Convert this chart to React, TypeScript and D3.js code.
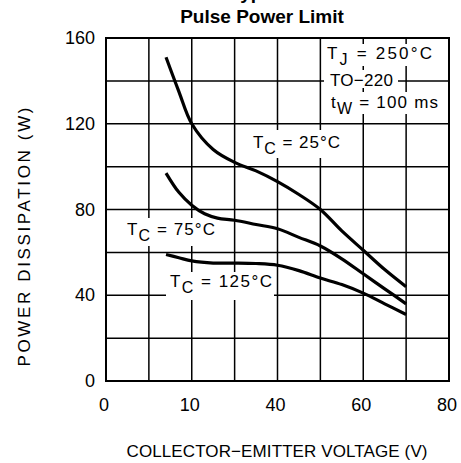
import * as d3 from 'd3'

const xTicks = [0, 20, 40, 60, 80]
const xTickLabels = ['0', '10', '40', '60', '80']
const yTicks = [0, 40, 80, 120, 160]

const tc25 = [
  [14, 151], [17, 135], [20, 120], [25, 108], [30, 102], [35, 98], [40, 93],
  [45, 87], [50, 80], [55, 70], [60, 61], [65, 52], [70, 44],
]
const tc75 = [
  [14, 97], [17, 88], [20, 82], [23, 78], [26, 76], [30, 75], [35, 73], [40, 71],
  [45, 67], [50, 63], [55, 57], [60, 50], [65, 43], [70, 36],
]
const tc125 = [
  [14, 59], [17, 57.5], [20, 56], [25, 55], [30, 55], [35, 54.8], [40, 54],
  [45, 51.5], [50, 48], [55, 45], [60, 41], [65, 36], [70, 31],
]
const series = [tc25, tc75, tc125]

const W = 461
const H = 463
const font = "'Liberation Sans', Arial, sans-serif"

export default function App() {
  const x = d3.scaleLinear().domain([0, 80]).range([106, 449])
  const y = d3.scaleLinear().domain([0, 160]).range([381, 38])

  const line = d3
    .line<number[]>()
    .x((d) => x(d[0]))
    .y((d) => y(d[1]))
    .curve(d3.curveCatmullRom.alpha(0.5))

  const gridX = d3.range(10, 80, 10)
  const gridY = d3.range(20, 160, 20)

  // label with a subscript, stretched to the width seen in the picture
  const sub = (main: string, s: string, rest: string, px: number, py: number, len: number) => (
    <text x={px} y={py} fontFamily={font} fontSize={17} fill="#000" textLength={len} lengthAdjust="spacing">
      {main}
      <tspan fontSize={16} dy={6}>{s}</tspan>
      <tspan dy={-6}>{rest}</tspan>
    </text>
  )

  return (
    <div style={{ position: 'absolute', left: 0, top: 0 }}>
      <svg width={W} height={H} style={{ display: 'block', background: '#fff' }}>
        <text x={262} y={-1} textAnchor="middle" fontFamily={font} fontWeight="bold" fontSize={19}>
          Typical
        </text>
        <text x={262} y={23} textAnchor="middle" fontFamily={font} fontWeight="bold" fontSize={19}>
          Pulse Power Limit
        </text>

        {gridX.map((v) => (
          <line key={'gx' + v} x1={x(v)} x2={x(v)} y1={y(0)} y2={y(160)} stroke="#000" strokeWidth={1.5} />
        ))}
        {gridY.map((v) => (
          <line key={'gy' + v} x1={x(0)} x2={x(80)} y1={y(v)} y2={y(v)} stroke="#000" strokeWidth={1.5} />
        ))}

        {/* white masks behind annotations */}
        <rect x={322} y={44} width={115} height={22} fill="#fff" />
        <rect x={324} y={70} width={74} height={18} fill="#fff" />
        <rect x={326} y={92} width={118} height={22} fill="#fff" />
        <rect x={243} y={130} width={103} height={28} fill="#fff" />
        <rect x={120} y={218} width={104} height={28} fill="#fff" />
        <rect x={166} y={272} width={108} height={28} fill="#fff" />

        {sub('T', 'J', ' =  250°C', 327, 59, 105)}
        <text x={330} y={86} fontFamily={font} fontSize={17} textLength={63} lengthAdjust="spacing">
          TO−220
        </text>
        {sub('t', 'W', ' =  100 ms', 331, 108, 107)}
        {sub('T', 'C', ' = 25°C', 253, 148, 87)}
        {sub('T', 'C', ' = 75°C', 127, 235, 88)}
        {sub('T', 'C', ' = 125°C', 170, 287, 102)}

        {series.map((s, i) => (
          <path key={i} d={line(s) ?? ''} fill="none" stroke="#000" strokeWidth={3.2} strokeLinecap="butt" />
        ))}

        <rect x={x(0)} y={y(160)} width={x(80) - x(0)} height={y(0) - y(160)} fill="none" stroke="#000" strokeWidth={2} />

        {yTicks.map((v) => (
          <text key={'yt' + v} x={95} y={y(v) + 6} textAnchor="end" fontFamily={font} fontSize={18}>
            {v}
          </text>
        ))}
        {xTicks.map((v, i) => (
          <text key={'xt' + v} x={x(v) - 2} y={411} textAnchor="middle" fontFamily={font} fontSize={18}>
            {xTickLabels[i]}
          </text>
        ))}

        <text x={277} y={457} textAnchor="middle" fontFamily={font} fontSize={17} textLength={301} lengthAdjust="spacing">
          COLLECTOR−EMITTER VOLTAGE (V)
        </text>
        <text
          transform={`translate(30, 237) rotate(-90)`}
          textAnchor="middle"
          fontFamily={font}
          fontSize={17}
          textLength={259}
          lengthAdjust="spacing"
        >
          POWER DISSIPATION (W)
        </text>
      </svg>
    </div>
  )
}
